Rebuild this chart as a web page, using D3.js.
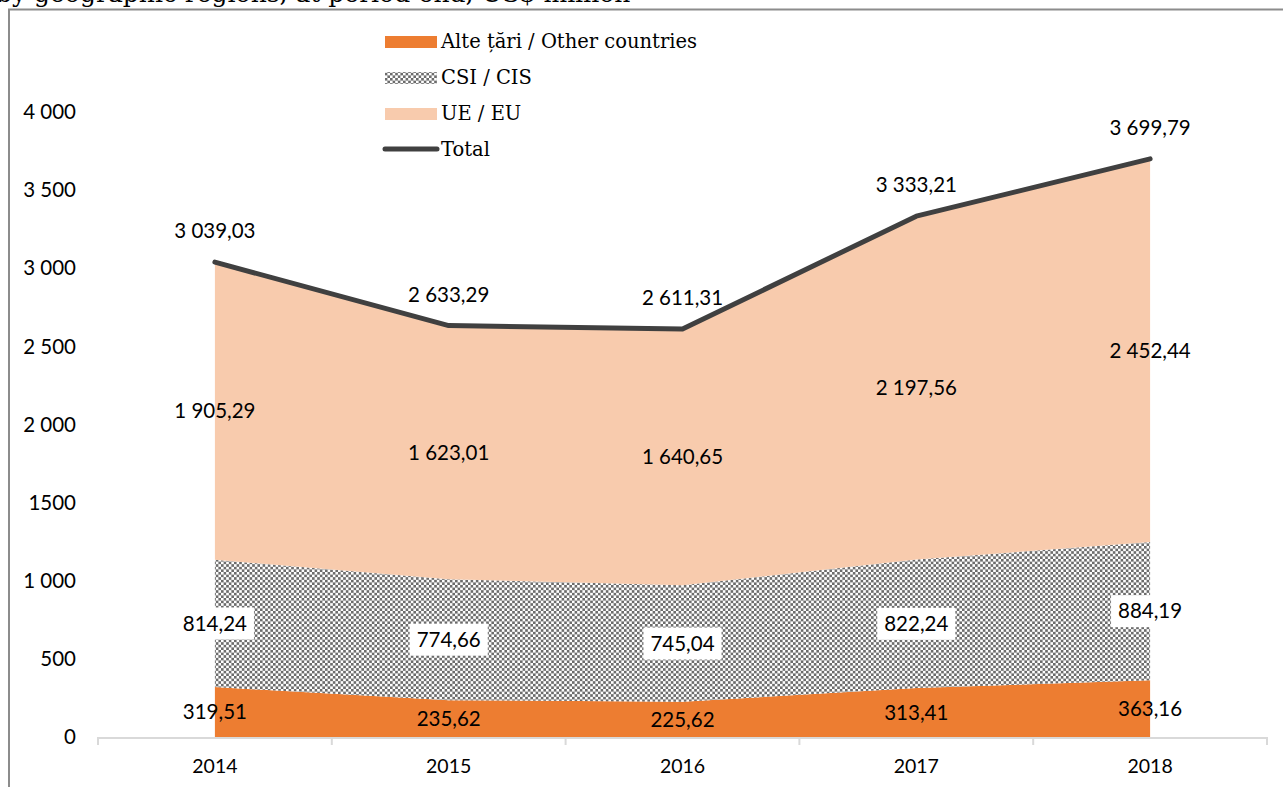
<!DOCTYPE html>
<html>
<head>
<meta charset="utf-8">
<script src="https://cdn.jsdelivr.net/npm/d3@7/dist/d3.min.js"></script>
<style>
  html, body { margin: 0; padding: 0; background: #fff; }
  svg { display: block; }
</style>
</head>
<body>
<svg id="chart" width="1283" height="787"></svg>
<script>
// Stocks by geographic regions, at period-end, US$ million
const years = ["2014", "2015", "2016", "2017", "2018"];
const otherCountries = [319.51, 235.62, 225.62, 313.41, 363.16];
const cis = [814.24, 774.66, 745.04, 822.24, 884.19];
const eu = [1905.29, 1623.01, 1640.65, 2197.56, 2452.44];
const total = [3039.03, 2633.29, 2611.31, 3333.21, 3699.79];

const yTickValues = [0, 500, 1000, 1500, 2000, 2500, 3000, 3500, 4000];
const yTickLabels = ["0", "500", "1 000", "1500", "2 000", "2 500", "3 000", "3 500", "4 000"];

const seriesKeys = ["other", "cis", "eu"];
const seriesNames = {
  other: "Alte țări / Other countries",
  cis: "CSI / CIS",
  eu: "UE / EU",
  total: "Total"
};

const rows = years.map((yr, i) => ({
  year: yr, other: otherCountries[i], cis: cis[i], eu: eu[i], total: total[i]
}));

const svg = d3.select("#chart");
const sans = "Lato, 'Open Sans', sans-serif";
const serif = "'DejaVu Serif', 'Liberation Serif', serif";

const colors = { other: "#ED7D31", eu: "#F8CBAD", line: "#404040" };

// checkerboard fill for the CIS band
const cell = 2.6;
const defs = svg.append("defs");
const pat = defs.append("pattern")
  .attr("id", "checker")
  .attr("patternUnits", "userSpaceOnUse")
  .attr("width", cell * 2).attr("height", cell * 2);
pat.append("rect").attr("width", cell * 2).attr("height", cell * 2).attr("fill", "#fff");
pat.append("rect").attr("x", 0).attr("y", 0).attr("width", cell).attr("height", cell).attr("fill", "#6c6c6c");
pat.append("rect").attr("x", cell).attr("y", cell).attr("width", cell).attr("height", cell).attr("fill", "#6c6c6c");

const fills = { other: colors.other, cis: "url(#checker)", eu: colors.eu };

// heading line (only its lower part is inside the page)
svg.append("text")
  .attr("x", -4).attr("y", 2)
  .attr("font-family", serif).attr("font-size", 25)
  .attr("fill", "#000")
  .text("by geographic regions, at period-end, US$ million");

// frame
svg.append("path")
  .attr("d", "M9,787 V9.5 H1283")
  .attr("fill", "none").attr("stroke", "#8c8c8c").attr("stroke-width", 2);

// scales
const x = d3.scaleBand().domain(years).range([98, 1267]).padding(0);
const bw = x.bandwidth();
const cx = yr => x(yr) + bw / 2;
const y = d3.scaleLinear().domain([0, 4000]).range([737, 112]);

const fmt = d3.formatLocale({ decimal: ",", thousands: " ", grouping: [3] }).format(",.2f");

// stacked areas
const stacked = d3.stack().keys(seriesKeys)(rows);
const area = d3.area()
  .x(d => cx(d.data.year))
  .y0(d => y(d[0]))
  .y1(d => y(d[1]));

svg.append("g").selectAll("path")
  .data(stacked)
  .join("path")
  .attr("d", area)
  .attr("fill", d => fills[d.key]);

// total line
const line = d3.line().x(d => cx(d.year)).y(d => y(d.total));
svg.append("path")
  .datum(rows)
  .attr("d", line)
  .attr("fill", "none")
  .attr("stroke", colors.line)
  .attr("stroke-width", 5)
  .attr("stroke-linecap", "round")
  .attr("stroke-linejoin", "round");

// x axis
const xAxis = svg.append("g");
xAxis.append("line")
  .attr("x1", 98).attr("x2", 1267)
  .attr("y1", 738).attr("y2", 738)
  .attr("stroke", "#d9d9d9").attr("stroke-width", 2);
const bounds = years.map(yr => x(yr)).concat([x(years[years.length - 1]) + bw]);
xAxis.selectAll("line.tick")
  .data(bounds)
  .join("line")
  .attr("class", "tick")
  .attr("x1", d => d).attr("x2", d => d)
  .attr("y1", 737).attr("y2", 745)
  .attr("stroke", "#d9d9d9").attr("stroke-width", 2);
xAxis.selectAll("text")
  .data(years)
  .join("text")
  .attr("x", d => cx(d))
  .attr("y", 773)
  .attr("text-anchor", "middle")
  .attr("font-family", sans).attr("font-size", 19.5)
  .attr("fill", "#000")
  .text(d => d);

// y axis labels
svg.append("g").selectAll("text")
  .data(yTickValues)
  .join("text")
  .attr("x", 76)
  .attr("y", d => y(d))
  .attr("dy", "0.35em")
  .attr("text-anchor", "end")
  .attr("font-family", sans).attr("font-size", 20.5)
  .attr("fill", "#000")
  .text((d, i) => yTickLabels[i]);

// data labels
const labels = svg.append("g")
  .attr("font-family", sans).attr("font-size", 20.5).attr("fill", "#000");

stacked.forEach(s => {
  s.forEach(d => {
    const px = cx(d.data.year);
    const py = y((d[0] + d[1]) / 2);
    const g = labels.append("g");
    const t = g.append("text")
      .attr("x", px).attr("y", py)
      .attr("dy", "0.35em")
      .attr("text-anchor", "middle")
      .text(fmt(d.data[s.key]));
    if (s.key === "cis") {
      const w = t.node().getComputedTextLength();
      g.insert("rect", "text")
        .attr("x", px - w / 2 - 7).attr("y", py - 16)
        .attr("width", w + 14).attr("height", 32)
        .attr("fill", "#fff");
    }
  });
});

labels.selectAll("text.total")
  .data(rows)
  .join("text")
  .attr("class", "total")
  .attr("x", d => cx(d.year))
  .attr("y", d => y(d.total) - 31)
  .attr("dy", "0.35em")
  .attr("text-anchor", "middle")
  .text(d => fmt(d.total));

// legend
const legend = svg.append("g").attr("font-family", serif).attr("font-size", 19.5).attr("fill", "#000");
const legendItems = [
  { key: "other", base: 48 },
  { key: "cis", base: 84 },
  { key: "eu", base: 120 },
  { key: "total", base: 156 }
];
legendItems.forEach(it => {
  if (it.key === "total") {
    legend.append("line")
      .attr("x1", 385).attr("x2", 437)
      .attr("y1", it.base - 7).attr("y2", it.base - 7)
      .attr("stroke", colors.line).attr("stroke-width", 5)
      .attr("stroke-linecap", "round");
  } else {
    legend.append("rect")
      .attr("x", 385).attr("y", it.base - 12)
      .attr("width", 52).attr("height", 12)
      .attr("fill", fills[it.key]);
  }
  legend.append("text")
    .attr("x", 441).attr("y", it.base)
    .text(seriesNames[it.key]);
});
</script>
</body>
</html>
